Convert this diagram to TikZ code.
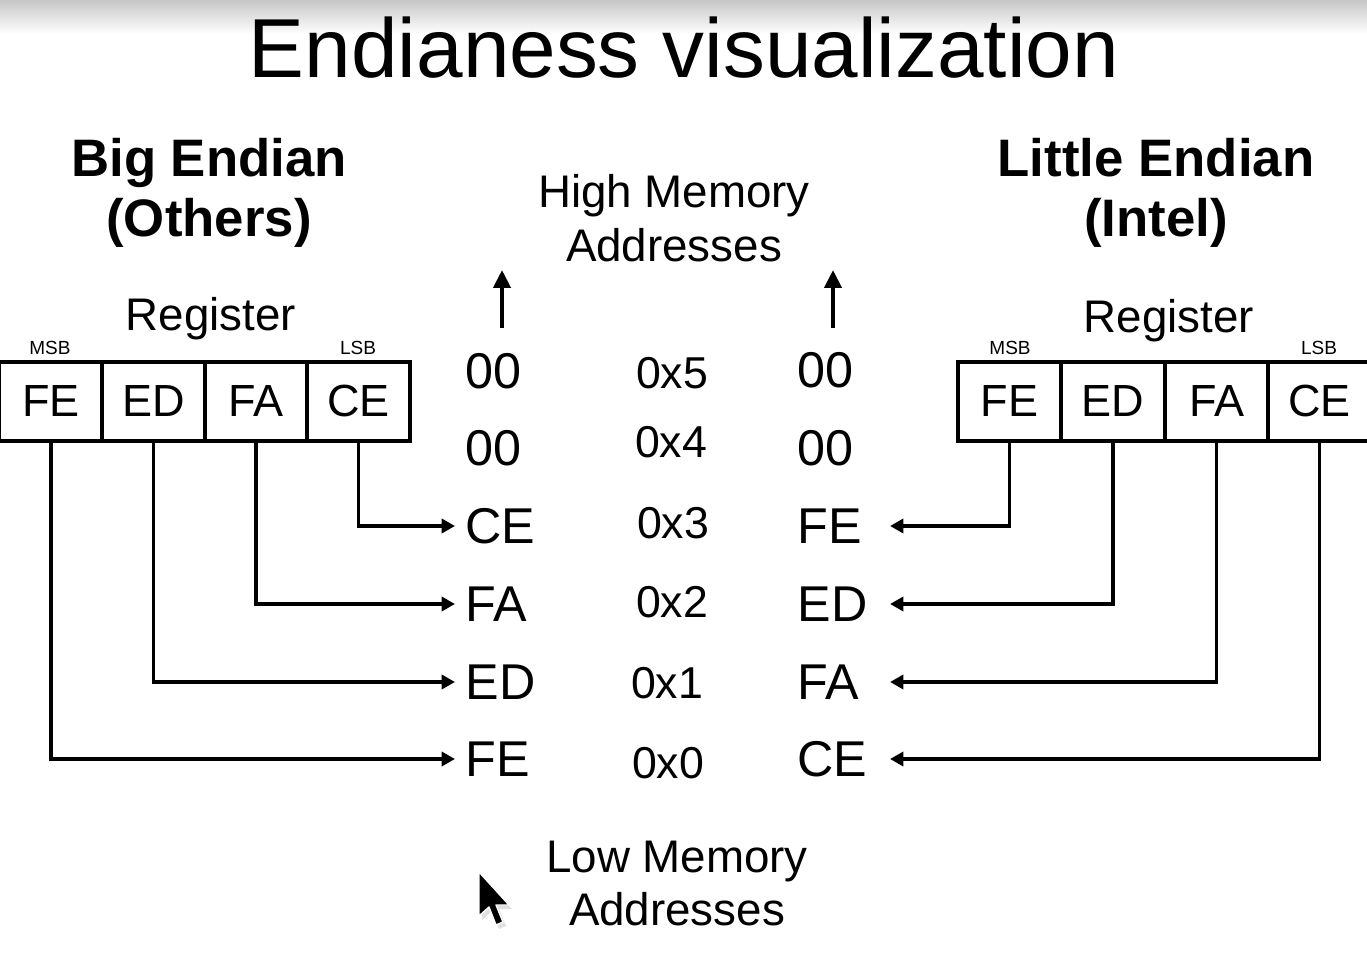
\documentclass[tikz,border=0pt]{standalone}
\usepackage{fontspec}
\setmainfont{Liberation Sans}
\usetikzlibrary{arrows.meta}

\tikzset{
  title/.style={font=\fontsize{23.8}{28}\selectfont},
  side/.style={font=\fontsize{15}{18}\selectfont\bfseries},
  memlbl/.style={font=\fontsize{13}{15}\selectfont},
  bitlbl/.style={font=\fontsize{5.4}{6}\selectfont},
  cell/.style={draw, line width=1.05pt, minimum width=1.03cm, minimum height=0.79cm, inner sep=0pt, font=\fontsize{12.8}{15}\selectfont},
  val/.style={anchor=west, inner xsep=2.8pt, inner ysep=0pt, font=\fontsize{14.3}{17}\selectfont},
  addr/.style={anchor=base, font=\fontsize{12.7}{15}\selectfont},
  link/.style={line width=1.05pt, -{Triangle[length=3.8pt, width=4pt]}},
  up/.style={line width=1.2pt, -{Triangle[length=5.1pt, width=4.8pt]}}
}

\begin{document}
\begin{tikzpicture}[x=0.01cm, y=-0.01cm]
      \useasboundingbox (0,0) rectangle (1367,958);
      \fill[white] (0,0) rectangle (1367,958);
      \shade[top color=black!22, bottom color=white] (0,0) rectangle (1367,34);

      % headings
      \node[title, anchor=base] (title) at (684,78) {Endianess visualization};
      \node[side, anchor=base] (big1) at (209,177) {Big Endian};
      \node[side, anchor=base] (big2) at (209,237) {(Others)};
      \node[side, anchor=base] (lit1) at (1156,177) {Little Endian};
      \node[side, anchor=base] (lit2) at (1156,237) {(Intel)};
      \node[memlbl, anchor=base] (high1) at (674,208) {High Memory};
      \node[memlbl, anchor=base] (high2) at (674,262) {Addresses};
      \node[memlbl, anchor=base] (low1) at (677,872) {Low Memory};
      \node[memlbl, anchor=base] (low2) at (677,925) {Addresses};

      % big endian register
      \node[memlbl, anchor=base] (lreg) at (211,331) {Register};
      \node[bitlbl, anchor=base] (lmsb) at (50,354) {MSB};
      \node[bitlbl, anchor=base] (llsb) at (358,354) {LSB};
      \node[cell] (lfe) at (51,401.5) {FE};
      \node[cell] (led) at (153.5,401.5) {ED};
      \node[cell] (lfa) at (256,401.5) {FA};
      \node[cell] (lce) at (358.5,401.5) {CE};

      % little endian register
      \node[memlbl, anchor=base] (rreg) at (1169,333) {Register};
      \node[bitlbl, anchor=base] (rmsb) at (1010,354) {MSB};
      \node[bitlbl, anchor=base] (rlsb) at (1319,354) {LSB};
      \node[cell] (rfe) at (1009.5,401.5) {FE};
      \node[cell] (red) at (1113,401.5) {ED};
      \node[cell] (rfa) at (1216.5,401.5) {FA};
      \node[cell] (rce) at (1319.5,401.5) {CE};

      % memory contents
      \node[val] (lv5) at (455,371) {00};
      \node[val] (lv4) at (455,448) {00};
      \node[val] (lv3) at (455,526) {CE};
      \node[val] (lv2) at (455,604) {FA};
      \node[val] (lv1) at (455,682) {ED};
      \node[val] (lv0) at (455,759) {FE};

      \node[val] (rv5) at (787,370) {00};
      \node[val] (rv4) at (787,448) {00};
      \node[val] (rv3) at (787,526) {FE};
      \node[val] (rv2) at (787,604) {ED};
      \node[val] (rv1) at (787,682) {FA};
      \node[val] (rv0) at (787,759) {CE};

      \node[addr] (a5) at (672,389) {0x5};
      \node[addr] (a4) at (671,457) {0x4};
      \node[addr] (a3) at (673,538) {0x3};
      \node[addr] (a2) at (672,617) {0x2};
      \node[addr] (a1) at (667,698) {0x1};
      \node[addr] (a0) at (668,778) {0x0};

      \coordinate (re3) at (890,526);
      \coordinate (re2) at (890,604);
      \coordinate (re1) at (890,682);
      \coordinate (re0) at (890,759);

      \coordinate (lup0) at (502,328);
      \coordinate (lup1) at (502,270);
      \coordinate (rup0) at (833,328);
      \coordinate (rup1) at (833,270);

      \draw[link] (lce.south) |- (lv3.west);
      \draw[link] (lfa.south) |- (lv2.west);
      \draw[link] (led.south) |- (lv1.west);
      \draw[link] (lfe.south) |- (lv0.west);

      \draw[link] (rfe.south) |- (re3);
      \draw[link] (red.south) |- (re2);
      \draw[link] (rfa.south) |- (re1);
      \draw[link] (rce.south) |- (re0);

      \draw[up] (lup0) -- (lup1);
      \draw[up] (rup0) -- (rup1);

      % mouse pointer
      \fill[black!12] (482,876) -- (482,920) -- (492,911) -- (499,929) -- (506,926) -- (499,909) -- (512,909) -- cycle;
      \filldraw[fill=black, draw=white, line width=0.4pt, line join=round] (479,872) -- (479,916) -- (489,907) -- (496,925) -- (503,922) -- (496,905) -- (509,905) -- cycle;
    \end{tikzpicture}
\end{document}
